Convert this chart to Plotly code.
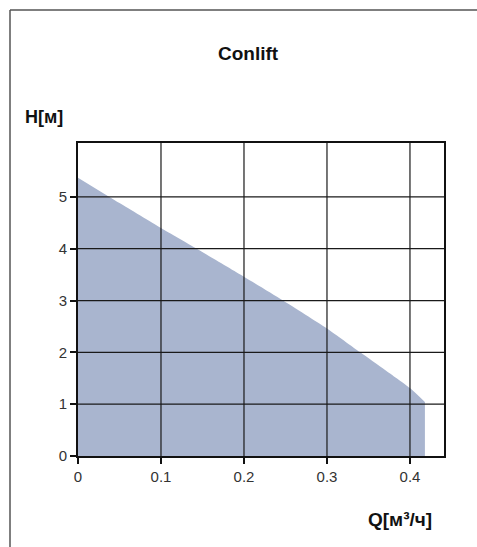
import plotly.graph_objects as go

# Data (pump curve: flow Q [m3/h] vs head H [m])
flow_q = [0.0, 0.05, 0.10, 0.143, 0.20, 0.247, 0.30, 0.34, 0.37, 0.40, 0.418]
head_h = [5.37, 4.88, 4.40, 4.00, 3.46, 3.00, 2.46, 2.00, 1.66, 1.31, 1.04]

x_ticks = [0, 0.1, 0.2, 0.3, 0.4]
x_tick_labels = ["0", "0.1", "0.2", "0.3", "0.4"]
y_ticks = [0, 1, 2, 3, 4, 5]
y_tick_labels = ["0", "1", "2", "3", "4", "5"]

W, H = 477, 547
L, R, T, B = 78, 444, 143, 456  # plot area pixel box

def px(xp):
    return (xp - L) / (R - L)

def py(yp):
    return (B - yp) / (B - T)

fig = go.Figure()
fig.add_trace(go.Scatter(
    x=flow_q, y=head_h, mode="lines", fill="tozeroy",
    fillcolor="#a9b5cf", line=dict(width=0, color="#a9b5cf", shape="spline", smoothing=0.6),
    hoverinfo="skip", showlegend=False,
))

shapes = []
for xv in x_ticks[1:]:
    shapes.append(dict(type="line", xref="x", yref="paper", x0=xv, x1=xv, y0=0, y1=1,
                       line=dict(color="#1a1a1a", width=1.2), layer="above"))
for yv in y_ticks[1:]:
    shapes.append(dict(type="line", xref="paper", yref="y", x0=0, x1=1, y0=yv, y1=yv,
                       line=dict(color="#1a1a1a", width=1.2), layer="above"))
# outer frame (left and top edges)
shapes.append(dict(type="line", xref="paper", yref="paper", x0=px(10), x1=px(10),
                   y0=py(10), y1=py(560), line=dict(color="#555555", width=1.5)))
shapes.append(dict(type="line", xref="paper", yref="paper", x0=px(10), x1=px(490),
                   y0=py(10), y1=py(10), line=dict(color="#555555", width=1.5)))

font_family = "Liberation Sans, Arial, sans-serif"

fig.update_layout(
    width=W, height=H,
    margin=dict(l=L, r=W - R, t=T, b=H - B, pad=0),
    paper_bgcolor="white", plot_bgcolor="white",
    font=dict(family=font_family, color="#222222", size=15),
    shapes=shapes,
    xaxis=dict(range=[0, 0.441], tickvals=x_ticks, ticktext=x_tick_labels,
               showgrid=False, zeroline=False, showline=True, linecolor="#111111",
               linewidth=2, mirror=True, ticks="outside", ticklen=6, tickwidth=2,
               tickcolor="#111111",
               tickfont=dict(size=15, color="#333333", family=font_family),
               layer="above traces", fixedrange=True),
    yaxis=dict(range=[0, 6.04], tickvals=y_ticks, ticktext=y_tick_labels,
               showgrid=False, zeroline=False, showline=True, linecolor="#111111",
               linewidth=2, mirror=True, ticks="outside", ticklen=6, tickwidth=2,
               tickcolor="#111111",
               tickfont=dict(size=15, color="#333333", family=font_family),
               layer="above traces", fixedrange=True),
    annotations=[
        dict(text="<b>Conlift</b>", xref="paper", yref="paper", x=px(248), y=py(53),
             xanchor="center", yanchor="middle", showarrow=False,
             font=dict(size=19, color="#111111", family=font_family)),
        dict(text="<b>H[м]</b>", xref="paper", yref="paper", x=px(23), y=py(117),
             xanchor="left", yanchor="middle", showarrow=False,
             font=dict(size=18, color="#111111", family=font_family)),
        dict(text="<b>Q[м³/ч]</b>", xref="paper", yref="paper", x=px(434), y=py(519),
             xanchor="right", yanchor="middle", showarrow=False,
             font=dict(size=19, color="#111111", family=font_family)),
    ],
)

fig.write_html("out.html", config={"displayModeBar": False},
               post_script="document.body.style.margin='0';document.body.style.overflow='hidden';")
